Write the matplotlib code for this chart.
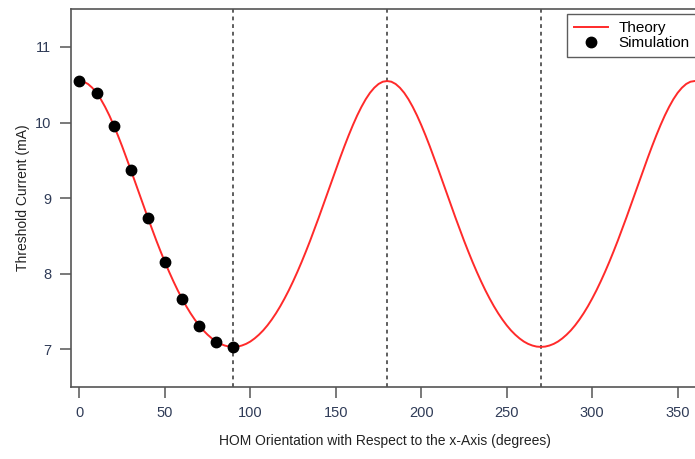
import matplotlib
matplotlib.use("Agg")
import matplotlib.pyplot as plt

# Theory curve values every 2.5 degrees, 0..90 (curve repeats by mirror)
theory_quarter = [10.549, 10.540, 10.510, 10.460, 10.393, 10.308, 10.207, 10.093, 9.966,
                  9.829, 9.684, 9.532, 9.376, 9.217, 9.058, 8.899, 8.741, 8.587, 8.437,
                  8.293, 8.154, 8.022, 7.897, 7.779, 7.670, 7.568, 7.475, 7.391, 7.315,
                  7.248, 7.191, 7.142, 7.101, 7.070, 7.048, 7.034, 7.030]
theory_half = theory_quarter + theory_quarter[-2::-1]          # 0..180
theory_values = theory_half + theory_half[1:]                  # 0..360
theory_angles = [i * 2.5 for i in range(len(theory_values))]

sim_angles = [0, 10, 20, 30, 40, 50, 60, 70, 80, 90]
sim_values = [10.55, 10.39, 9.95, 9.37, 8.73, 8.15, 7.67, 7.31, 7.10, 7.03]

vlines_at = [90, 180, 270]
xticks = [0, 50, 100, 150, 200, 250, 300, 350]
yticks = [7, 8, 9, 10, 11]

plt.rcParams['font.family'] = ['Liberation Sans', 'DejaVu Sans']

fig = plt.figure(figsize=(6.95, 4.59), dpi=100)
ax = fig.add_axes([0.102, 0.157, 0.905, 0.823])

for v in vlines_at:
    ax.axvline(v, color='#333333', lw=1.1, ls=(0, (2.5, 2.5)), zorder=1)

ax.plot(theory_angles, theory_values, color='#ff2a2a', lw=1.4, label='Theory', zorder=2)
ax.plot(sim_angles, sim_values, 'o', color='black', ms=7.5, label='Simulation', zorder=3)

ax.set_xlim(-5, 363)
ax.set_ylim(6.5, 11.5)
ax.set_xticks(xticks)
ax.set_yticks(yticks)

for s in ax.spines.values():
    s.set_color('#555555')
    s.set_linewidth(1.2)

ax.tick_params(axis='both', direction='out', length=8, width=1.1, color='#555555',
               labelsize=10.5, labelcolor='#2f3b57', pad=6)

ax.set_xlabel('HOM Orientation with Respect to the x-Axis (degrees)', fontsize=10,
              color='#222222', labelpad=10)
ax.set_ylabel('Threshold Current (mA)', fontsize=10, color='#222222', labelpad=4)

leg = ax.legend(loc='upper left', bbox_to_anchor=(0.789, 0.5, 0.23, 0.487), mode='expand',
                fontsize=11, frameon=True, fancybox=False, edgecolor='#333333',
                borderpad=0.45, labelspacing=0.1, handlelength=2.2, handletextpad=0.7,
                borderaxespad=0.0)
leg.get_frame().set_linewidth(1.0)

fig.savefig('out.png', dpi=100)
